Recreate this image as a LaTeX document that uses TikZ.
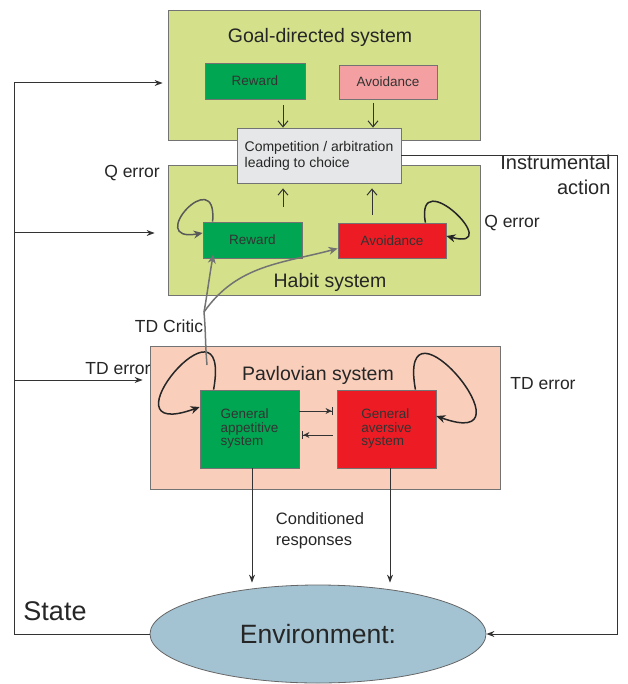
\documentclass[tikz,border=0pt]{standalone}
\usepackage{fontspec}
\setmainfont{Liberation Sans}
\usetikzlibrary{arrows.meta, positioning, shapes.geometric}

\definecolor{sysgreen}{RGB}{212,225,138}
\definecolor{rewgreen}{RGB}{0,166,81}
\definecolor{avopink}{RGB}{244,160,162}
\definecolor{avored}{RGB}{237,28,36}
\definecolor{pavpeach}{RGB}{249,207,188}
\definecolor{compgray}{RGB}{230,231,232}
\definecolor{envblue}{RGB}{163,195,211}

\tikzset{
  box/.style={draw=black!55, line width=0.8pt, inner sep=0pt},
  sysbox/.style={box, fill=sysgreen, minimum width=312, minimum height=130},
  pavbox/.style={box, fill=pavpeach, minimum width=350, minimum height=143},
  small/.style={font=\fontsize{13.5}{13.5}\selectfont, text=black!80},
  rewbox/.style={box, small, fill=rewgreen},
  pinkbox/.style={box, small, fill=avopink},
  redbox/.style={box, small, fill=avored},
  pavsub/.style={minimum width=99, minimum height=78, align=left},
  compbox/.style={box, fill=compgray, minimum width=164, minimum height=55,
    align=left, font=\fontsize{14}{16}\selectfont},
  envnode/.style={ellipse, draw=black!60, line width=0.8pt, fill=envblue,
    minimum width=336, minimum height=98, inner sep=0pt,
    font=\fontsize{26.5}{30}\selectfont},
  title/.style={font=\fontsize{19.5}{23}\selectfont},
  txt/.style={font=\fontsize{17.5}{21}\selectfont},
  line/.style={line width=1pt, black!80},
  arr/.style={line, -{Stealth[length=8,width=6]}},
  varr/.style={line, -{Straight Barb[length=6,width=10]}},
  barr/.style={line, -{Stealth[length=6,width=6]Bar[width=8]}},
  loopk/.style={line width=1.5pt, black!85, -{Stealth[length=9,width=8]}},
  loopg/.style={line width=1.5pt, black!65, -{Stealth[length=9,width=8]}},
  critic/.style={line width=1.5pt, black!55},
  critarr/.style={critic, -{Stealth[length=9,width=8]}}
}

\begin{document}
\begin{tikzpicture}[x=1pt, y=1pt, every node/.style={text=black!85}]
   \useasboundingbox (0,0) rectangle (627,-684);

   % the three systems
   \node (goal)[sysbox] at (324,-75) {};
   \node (hab)[sysbox] at (324,-230) {};
   \node (pav)[pavbox] at (325,-417.5) {};
   \node (goaltitle)[title] at (320,-37) {Goal-directed system};
   \node (habtitle)[title] at (330,-282) {Habit system};
   \node (pavtitle)[title] at (318,-375) {Pavlovian system};

   \node (grew)[rewbox, minimum width=100, minimum height=36] at (255,-81) {Reward};
   \node (gavo)[pinkbox, minimum width=98, minimum height=34] at (388,-82) {Avoidance};
   \node (comp)[compbox] at (319,-155.5) {Competition / arbitration\\leading to choice};
   \node (hrew)[rewbox, minimum width=99, minimum height=36] at (252.5,-240) {Reward};
   \node (havo)[redbox, minimum width=108, minimum height=35] at (392,-240.5) {Avoidance};
   \node (app)[rewbox, pavsub] at (249.5,-429) {General\\appetitive\\system};
   \node (ave)[redbox, pavsub] at (386.5,-429) {General\\aversive\\system};
   \node (env)[envnode] at (318,-634) {Environment:};

   % labels
   \node (qerrl)[txt] at (132,-173) {Q error};
   \node (qerrr)[txt] at (512,-223) {Q error};
   \node (tderrl)[txt] at (118,-369) {TD error};
   \node (tderrr)[txt] at (543,-384) {TD error};
   \node (tdcrit)[txt] at (169,-326) {TD Critic};
   \node (instr)[title, font=\fontsize{20}{25}\selectfont, align=right, anchor=north east] at (614,-151) {Instrumental\\action};
   \node (cresp)[txt, font=\fontsize{16.5}{21}\selectfont, align=left] at (320,-531) {Conditioned\\responses};
   \node (state)[font=\fontsize{27}{30}\selectfont] at (55,-611) {State};

   % choice
   \draw[varr, shorten <=6] ([xshift=28]grew.south) -- ([xshift=28]grew.south |- comp.north);
   \draw[varr, shorten <=4] ([xshift=-15]gavo.south) -- ([xshift=-15]gavo.south |- comp.north);
   \draw[varr, shorten <=15, shorten >=5] ([xshift=30.5]hrew.north) -- ([xshift=30.5]hrew.north |- comp.south);
   \draw[varr, shorten <=8, shorten >=5] ([xshift=-20]havo.north) -- ([xshift=-20]havo.north |- comp.south);

   % state and action
   \coordinate (lgoal) at (14,-83);
   \coordinate (lhab) at (14,-233);
   \coordinate (lpav) at (14,-380);
   \coordinate (rgt) at (617,-634);
   \draw[line] (env.west) -| (lgoal);
   \path[arr, shorten >=5](lgoal)edge(goal.west |- lgoal);
   \path[arr, shorten >=13](lhab)edge(hab.west |- lhab);
   \path[arr, shorten >=7](lpav)edge(pav.west |- lpav);
   \draw[arr] (comp.east) -| (rgt) -- (env.east);

   % conditioned responses
   \draw[arr, shorten >=2] ([xshift=2.5]app.south) -- ([xshift=2.5]app.south |- env.north);
   \draw[arr, shorten >=2] ([xshift=3.5]ave.south) -- ([xshift=3.5]ave.south |- env.north);

   % pavlovian interaction
   \draw[barr, shorten >=4] ([yshift=18]app.east) -- ([yshift=18]ave.west);
   \draw[barr, shorten <=4, shorten >=3] ([yshift=-6]ave.west) -- ([yshift=-6]app.east);

   % error loops
   \draw[loopg] ([xshift=10]hrew.north west) to[out=85, in=190, distance=60] ([yshift=7]hrew.west);
   \draw[loopk] ([xshift=-21]havo.north east) to[out=100, in=-15, distance=62] ([yshift=4.5]havo.east);
   \draw[loopk] ([xshift=14]app.north west) to[out=80, in=200, distance=110] ([yshift=22]app.west);
   \draw[loopk] ([xshift=-21]ave.north east) to[out=100, in=-20, distance=110] ([yshift=13]ave.east);

   % TD critic
   \coordinate (crit0) at (207,-365);
   \coordinate (crit) at (204,-312);
   \draw[critic] (crit0) to[out=95, in=-85] (crit);
   \path[critarr, shorten >=-4](crit)edge[out=80, in=-100]([xshift=10]hrew.south west);
   \path[critarr](crit)edge[out=55, in=195]([yshift=-8]havo.west);
\end{tikzpicture}
\end{document}
